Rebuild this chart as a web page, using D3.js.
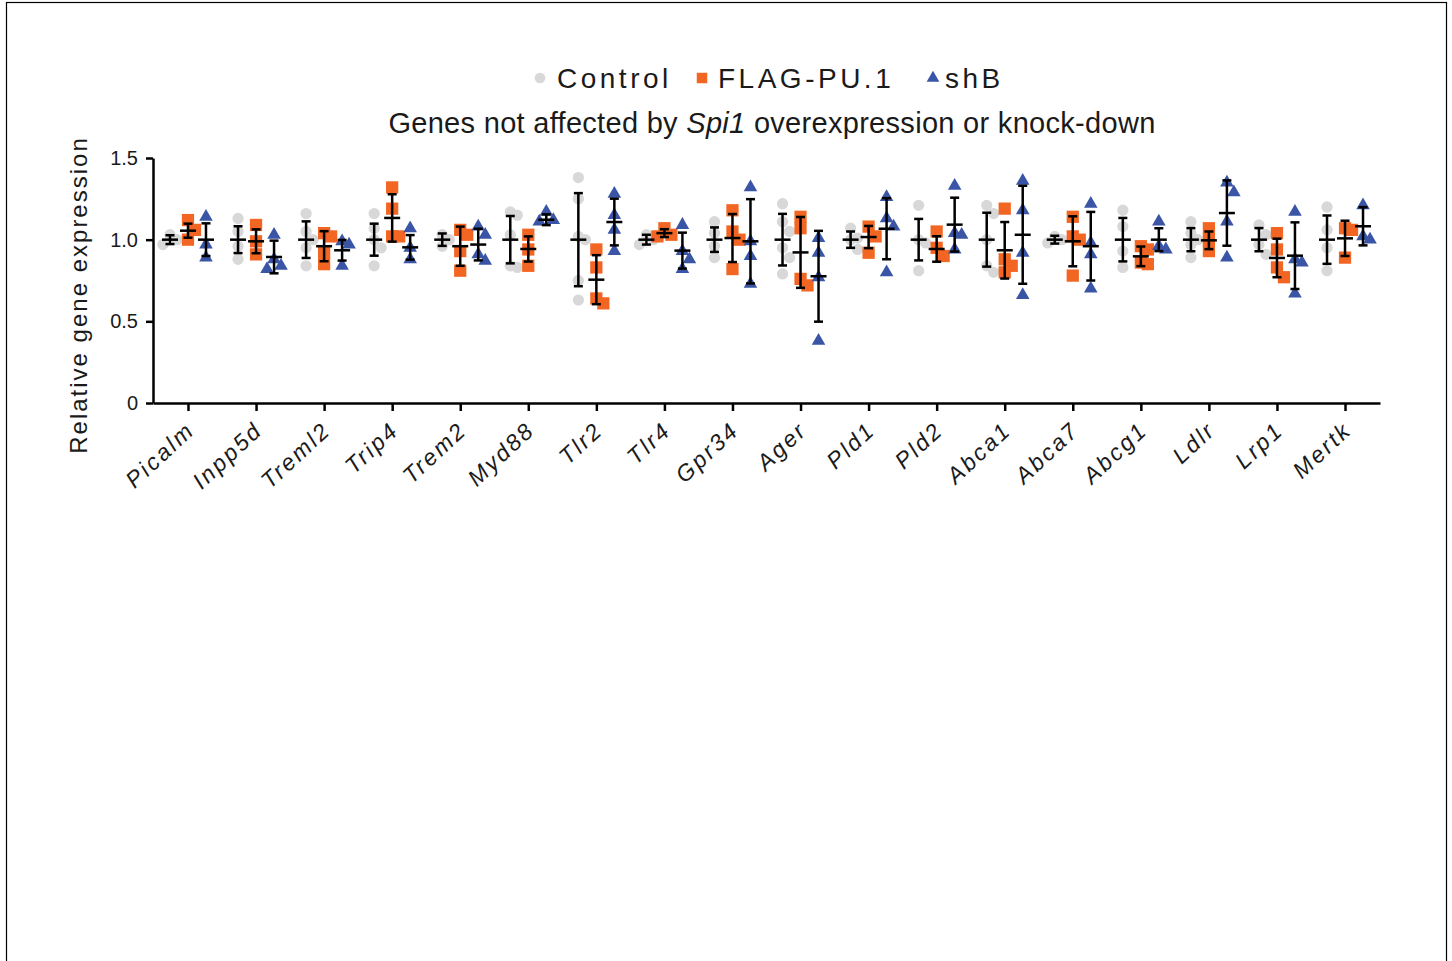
<!DOCTYPE html>
<html><head><meta charset="utf-8">
<script src="https://cdn.jsdelivr.net/npm/d3@7"></script>
<style>body{margin:0;background:#fff} svg{display:block} text{font-family:"Liberation Sans",Arial,sans-serif;fill:#1a1a1a}</style>
</head><body><svg id="c" width="1452" height="961"></svg>
<script>
const genes = ["Picalm","Inpp5d","Treml2","Trip4","Trem2","Myd88","Tlr2","Tlr4","Gpr34","Ager","Pld1","Pld2","Abca1","Abca7","Abcg1","Ldlr","Lrp1","Mertk"];
const seriesNames = ["Control","FLAG-PU.1","shB"];
const yTicks = [0, 0.5, 1.0, 1.5];
const yTickLabels = ["0","0.5","1.0","1.5"];

const controlPoints = [[1.03,1.0,0.97],[1.13,1.05,0.96,0.88],[1.16,1.05,1.0,0.95,0.84],[1.16,1.07,1.0,0.95,0.84],[1.03,1.0,0.96],[1.17,1.15,1.03,0.84,0.83],[1.38,1.25,1.02,1.0,0.75,0.63],[1.03,1.0,0.97],[1.11,1.04,0.96,0.89],[1.22,1.11,1.05,0.95,0.89,0.79],[1.07,1.01,1.0,0.94],[1.21,1.0,0.98,0.81],[1.21,1.16,1.0,0.84,0.80],[1.02,1.0,0.98],[1.18,1.08,0.93,0.83],[1.11,1.04,1.0,0.97,0.89],[1.09,1.03,0.97,0.91],[1.20,1.06,0.95,0.81]];
const controlMean = [1,1,1,1,1,1,1,1,1,1,1,1,1,1,1,1,1,1];
const controlErr = [0.027,0.082,0.112,0.098,0.038,0.145,0.285,0.03,0.075,0.158,0.05,0.127,0.165,0.024,0.133,0.071,0.071,0.148];

const flagPoints = [[1.12,1.06,1.0],[1.09,0.99,0.91],[1.04,1.02,0.92,0.85],[1.32,1.19,1.02,1.02],[1.06,1.03,0.93,0.81],[1.03,0.94,0.84],[0.94,0.83,0.64,0.61],[1.07,1.03,1.02],[1.18,1.05,1.0,0.82],[1.14,1.07,0.76,0.72],[1.08,1.02,0.92],[1.05,0.95,0.90],[1.19,0.88,0.84,0.80],[1.14,1.02,1.0,0.78],[0.96,0.94,0.86,0.85],[1.07,1.0,0.93],[1.04,0.94,0.83,0.77],[1.07,1.06,0.89]];
const flagMean = [1.055,0.99,0.96,1.133,0.96,0.943,0.755,1.04,1.01,0.922,1.016,0.943,0.935,0.99,0.898,0.996,0.888,1.008];
const flagErr = [0.043,0.073,0.092,0.145,0.12,0.077,0.15,0.024,0.147,0.217,0.068,0.078,0.173,0.153,0.06,0.054,0.118,0.108];

const shbPoints = [[1.14,0.97,0.89],[1.03,0.88,0.84,0.82],[0.99,0.97,0.84],[1.07,0.95,0.88],[1.08,1.03,0.91,0.87],[1.17,1.12,1.11],[1.28,1.15,1.06,0.93],[1.09,0.93,0.88,0.82],[1.32,0.99,0.90,0.73],[1.01,0.92,0.77,0.38],[1.26,1.13,1.08,0.80],[1.33,1.04,1.03,0.94],[1.36,1.18,0.92,0.66],[1.22,0.98,0.91,0.70],[1.11,0.96,0.94],[1.35,1.29,1.11,0.89],[1.17,0.88,0.86,0.67],[1.21,1.02,1.0]];
const shbMean = [1.0,0.894,0.935,0.953,0.97,1.122,1.108,0.933,0.99,0.776,1.067,1.092,1.03,0.96,1.0,1.163,0.902,1.082];
const shbErr = [0.1,0.1,0.063,0.075,0.097,0.033,0.143,0.11,0.258,0.278,0.187,0.165,0.3,0.21,0.07,0.2,0.204,0.117];

const colors = ["#d8d8d8","#f26522","#3a55a6"];
const symbols = [d3.symbolCircle, d3.symbolSquare, d3.symbolTriangle];
const symSizes = [100, 150, 80];

const series = [
  {name: seriesNames[0], pts: controlPoints, mean: controlMean, err: controlErr},
  {name: seriesNames[1], pts: flagPoints, mean: flagMean, err: flagErr},
  {name: seriesNames[2], pts: shbPoints, mean: shbMean, err: shbErr}
];

const svg = d3.select("#c");
svg.append("rect").attr("x",6.5).attr("y",2.5).attr("width",1440).attr("height",990)
  .attr("fill","none").attr("stroke","#000").attr("stroke-width",1.2);

const x = d3.scalePoint().domain(genes).range([153,1380]).padding(0.514);
const sub = d3.scalePoint().domain(seriesNames).range([-18,18]);
const y = d3.scaleLinear().domain([0,1.5]).range([403,158]);

// points with a light dodge (columns at 0, +7, -7)
const gPts = svg.append("g");
series.forEach((s,si)=>{
  genes.forEach((g,gi)=>{
    const cx = x(g) + sub(s.name);
    const placed = [];
    s.pts[gi].slice().sort((a,b)=>b-a).forEach(v=>{
      const py = y(v);
      const cands = [0,7,-7];
      const cost = o => placed.reduce((c,p)=>c + ((Math.abs(p.o-o)<5 && Math.abs(p.y-py)<11) ? (11-Math.abs(p.y-py)) : 0), 0);
      let best = cands[0], bc = cost(best);
      cands.forEach(o=>{ const c = cost(o); if (c < bc - 1e-9) { bc = c; best = o; } });
      placed.push({o:best,y:py});
      gPts.append("path").attr("d", d3.symbol(symbols[si], symSizes[si])())
        .attr("transform", `translate(${cx+best},${py})`).attr("fill", colors[si]);
    });
  });
});

// error bars
const gErr = svg.append("g").attr("stroke","#000").attr("stroke-width",2.5);
series.forEach((s)=>{
  genes.forEach((g,gi)=>{
    const cx = x(g) + sub(s.name);
    const m = s.mean[gi], e = s.err[gi];
    gErr.append("line").attr("x1",cx).attr("x2",cx).attr("y1",y(m+e)).attr("y2",y(m-e));
    gErr.append("line").attr("x1",cx-4.5).attr("x2",cx+4.5).attr("y1",y(m+e)).attr("y2",y(m+e));
    gErr.append("line").attr("x1",cx-4.5).attr("x2",cx+4.5).attr("y1",y(m-e)).attr("y2",y(m-e));
    gErr.append("line").attr("x1",cx-8).attr("x2",cx+8).attr("y1",y(m)).attr("y2",y(m));
  });
});

// axes
const yAx = svg.append("g").attr("transform","translate(153,0)")
  .call(d3.axisLeft(y).tickValues(yTicks).tickFormat((d,i)=>yTickLabels[i]).tickSize(7).tickSizeOuter(0).tickPadding(8));
yAx.selectAll("path,line").attr("stroke","#000").attr("stroke-width",2.5);
yAx.selectAll("text").attr("font-size",20).attr("font-family","Liberation Sans, Arial, sans-serif").attr("fill","#1a1a1a");

const xAx = svg.append("g").attr("transform","translate(0,403)")
  .call(d3.axisBottom(x).tickSize(8).tickSizeOuter(0).tickFormat(""));
xAx.selectAll("path,line").attr("stroke","#000").attr("stroke-width",2.5);

svg.append("g").selectAll("text").data(genes).join("text")
  .attr("transform", d=>`translate(${x(d)+8},432) rotate(-43)`)
  .attr("text-anchor","end").attr("font-size",23).attr("font-style","italic")
  .attr("letter-spacing",2.5).text(d=>d);

// y title
svg.append("text").attr("transform","translate(87,295) rotate(-90)")
  .attr("text-anchor","middle").attr("font-size",24).attr("letter-spacing",2)
  .text("Relative gene expression");

// title
const t = svg.append("text").attr("x",772).attr("y",133).attr("text-anchor","middle").attr("font-size",29).attr("letter-spacing",0.3);
t.append("tspan").text("Genes not affected by ");
t.append("tspan").attr("font-style","italic").text("Spi1");
t.append("tspan").text(" overexpression or knock-down");

// legend
const legX = [540, 702, 933];
const legTX = [557, 718, 945];
seriesNames.forEach((n,i)=>{
  svg.append("path").attr("d", d3.symbol(symbols[i], [90,110,70][i])())
    .attr("transform",`translate(${legX[i]},78)`).attr("fill",colors[i]);
  svg.append("text").attr("x",legTX[i]).attr("y",88).attr("font-size",28).attr("letter-spacing",3.5).text(n);
});
</script></body></html>
